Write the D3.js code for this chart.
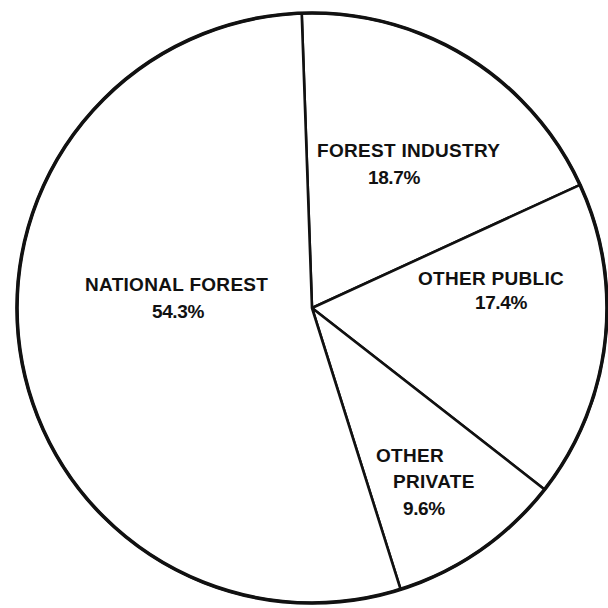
<!DOCTYPE html>
<html>
<head>
<meta charset="utf-8">
<script src="https://cdn.jsdelivr.net/npm/d3@7"></script>
<style>
  html, body { margin: 0; padding: 0; background: #fff; }
  svg { display: block; }
  text { font-family: "Liberation Sans", Arial, Helvetica, sans-serif; font-weight: bold; fill: #111; }
</style>
</head>
<body>
<svg id="chart" width="608" height="608"></svg>
<script>
// Ownership shares, in percent, clockwise from 12 o'clock
const categories = ["FOREST INDUSTRY", "OTHER PUBLIC", "OTHER PRIVATE", "NATIONAL FOREST"];
const shares = [18.7, 17.4, 9.6, 54.3];

// Label lines for each slice (name may wrap onto two lines)
const nameLines = [["FOREST INDUSTRY"], ["OTHER PUBLIC"], ["OTHER", "PRIVATE"], ["NATIONAL FOREST"]];

// Where each slice's text block sits (left edge of each line, baselines)
const labelLayout = [
  { lines: [[317, 157], [368, 184]] },
  { lines: [[418, 285], [475, 309]] },
  { lines: [[376, 462], [393, 488], [403, 515]] },
  { lines: [[85, 291], [152, 318]] }
];

const width = 608, height = 608;
const cx = 312, cy = 308, radius = 295;
const start = -2 * Math.PI / 180;

const svg = d3.select("#chart");
const g = svg.append("g").attr("transform", `translate(${cx},${cy})`);

const pie = d3.pie().sort(null).value(d => d).startAngle(start).endAngle(start + 2 * Math.PI);
const arc = d3.arc().innerRadius(0).outerRadius(radius);
const arcs = pie(shares);

// slices with their radial dividers
g.selectAll("path.slice")
  .data(arcs)
  .join("path")
  .attr("class", "slice")
  .attr("d", arc)
  .attr("fill", "#fff")
  .attr("stroke", "#111")
  .attr("stroke-width", 2.6)
  .attr("stroke-linejoin", "round");

// heavier outer rim
g.append("circle")
  .attr("r", radius)
  .attr("fill", "none")
  .attr("stroke", "#111")
  .attr("stroke-width", 3.6);

// labels: name line(s) followed by the percentage
const fmt = d3.format(".1f");
arcs.forEach((a, i) => {
  const texts = nameLines[i].concat([fmt(shares[i]) + "%"]);
  texts.forEach((t, j) => {
    const [x, y] = labelLayout[i].lines[j];
    const isValue = j === texts.length - 1;
    svg.append("text")
      .attr("x", x)
      .attr("y", y)
      .attr("font-size", 19)
      .attr("letter-spacing", isValue ? -0.4 : 0.3)
      .text(t);
  });
});
</script>
</body>
</html>
